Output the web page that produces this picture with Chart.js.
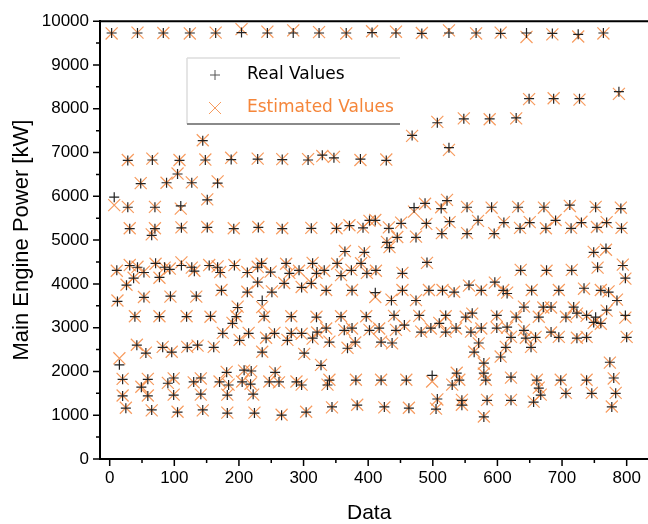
<!DOCTYPE html>
<html>
<head>
<meta charset="utf-8">
<script src="https://cdn.jsdelivr.net/npm/chart.js@4.4.1/dist/chart.umd.min.js"></script>
<style>
html, body { margin: 0; padding: 0; background: #fff; }
</style>
</head>
<body>
<canvas id="powerChart" width="648" height="524"></canvas>
<script>
// data index of every sample (one line per band of the plot)
const dataIndex = [
    3,43,83,124,164,204,244,284,324,366,406,443,483,525,567,605,645,685,725,764,
    28,66,108,148,188,229,267,307,329,347,388,428,
    105,48,88,127,167,144,151,
    468,507,525,548,588,629,649,687,727,788,
    7,28,70,110,
    471,488,513,522,553,591,632,672,712,752,791,
    31,65,70,111,151,192,230,267,312,351,371,392,402,411,432,451,474,490,514,526,553,570,595,610,635,650,675,690,714,730,754,769,792,
    364,394,429,433,445,749,768,
    11,31,43,53,71,85,93,111,127,131,154,167,171,193,213,229,235,249,273,278,293,314,320,332,352,358,374,389,398,412,453,491,636,676,715,755,794,798,
    26,37,77,173,213,229,251,270,297,312,335,375,411,436,453,474,494,515,533,556,575,596,609,615,641,653,695,734,760,772,785,
    12,53,94,134,198,236,
    39,77,119,156,196,239,281,320,358,397,440,479,520,551,561,599,629,664,671,683,706,718,723,738,752,769,798,
    175,190,201,215,236,242,255,281,297,321,335,363,375,402,417,443,456,482,497,510,520,536,559,575,599,615,621,641,644,659,683,695,723,738,749,760,800,
    42,56,82,96,120,136,161,275,301,314,327,340,368,380,420,437,564,571,579,605,613,652,
    15,
    20,59,99,141,181,208,219,247,256,262,289,297,337,340,381,420,459,499,530,537,541,579,582,621,661,664,698,706,738,746,774,777,780,783,
    49,90,130,170,184,205,218,
    20,59,99,141,182,222,
    25,65,105,144,182,224,266,304,344,383,425,463,505,507,545,545,584,621,656,667,579
];

// measured main engine power [kW]
const realPower = [
    9730,9730,9730,9730,9730,9740,9730,9730,9730,9730,9740,9730,9720,9730,9730,9720,9730,9720,9700,9730,
    6820,6830,6820,6830,6840,6850,6840,6830,6940,6880,6850,6820,
    6510,6290,6310,6310,6300,7270,5920,
    7390,7680,7110,7770,7770,7790,8230,8230,8230,8390,
    5980,5750,5750,5780,
    5740,5840,5720,5900,5750,5750,5750,5750,5800,5750,5720,
    5260,5110,5260,5280,5290,5260,5290,5260,5270,5270,5330,5280,5450,5450,5270,5380,5060,5380,5150,5420,5150,5450,5150,5400,5270,5400,5270,5450,5270,5400,5290,5400,5270,
    4740,4720,4950,4830,5060,4720,4810,
    4310,4420,4380,4260,4470,4380,4330,4420,4380,4290,4420,4380,4260,4420,4260,4380,4470,4270,4470,4240,4310,4470,4240,4310,4470,4190,4310,4470,4240,4310,4240,4490,4310,4310,4310,4380,4420,4130,
    3970,4130,4150,3850,3810,4040,3810,4010,3920,4010,3850,3850,3800,3620,3850,3620,3850,3850,3810,3970,3850,4040,3850,3780,3470,3850,3850,3900,3850,3810,3620,
    3600,3690,3720,3720,3460,3620,
    3250,3250,3250,3260,3250,3260,3250,3240,3250,3250,3280,3280,3280,3240,3330,3280,3240,3240,3470,3470,3240,3470,3330,3280,3240,3400,3280,
    2870,3100,2710,2870,2440,2760,2870,2870,2870,2900,2990,2940,2990,2940,2990,2940,3060,2900,2990,3100,2900,2990,2900,2990,2990,3010,2780,2940,2760,2780,2900,2780,2760,2780,3120,3100,2780,
    2600,2420,2550,2440,2550,2600,2550,2710,2420,2760,2140,2670,2530,2670,2670,2650,2440,2650,2190,2330,2550,2550,
    2150,
    1820,1820,1850,1850,1980,2030,2010,1760,1980,1760,1760,1690,1690,1800,1800,1800,1800,1910,1690,1960,1800,1960,1800,1870,1800,1620,1800,1500,1800,1500,2210,1190,1850,1500,
    1640,1730,1760,1760,1690,1760,1710,
    1440,1440,1460,1480,1460,1480,
    1160,1120,1070,1120,1050,1050,1000,1070,1190,1230,1190,1160,1140,1370,1340,1230,1340,1340,1300,1460,960
];

// model estimate of main engine power [kW]
const estimatedPower = [
    9720,9740,9730,9720,9740,9820,9760,9790,9750,9720,9770,9760,9730,9790,9720,9740,9640,9700,9650,9720,
    6830,6860,6830,6840,6880,6860,6850,6850,6920,6900,6830,6840,
    6520,6300,6310,6320,6340,7280,5930,
    7380,7700,7060,7780,7760,7780,8220,8240,8210,8340,
    5800,5760,5760,5720,
    5650,5830,5750,5920,5760,5740,5760,5740,5780,5760,5740,
    5270,5130,5270,5290,5300,5270,5300,5270,5280,5270,5340,5290,5440,5460,5290,5400,5080,5370,5160,5410,5160,5440,5160,5410,5280,5410,5270,5460,5280,5420,5300,5410,5280,
    4750,4730,4960,4840,5070,4730,4780,
    4300,4430,4390,4280,4460,4370,4350,4490,4370,4300,4430,4400,4270,4430,4270,4390,4460,4280,4460,4250,4300,4480,4250,4300,4460,4200,4320,4470,4250,4300,4250,4480,4320,4300,4320,4370,4440,4120,
    3980,4140,4140,3860,3820,4030,3830,4020,3930,4020,3860,3860,3700,3640,3860,3630,3860,3860,3820,3960,3860,4030,3860,3800,3480,3860,3860,3890,3860,3830,3640,
    3620,3700,3710,3710,3480,3470,
    3260,3260,3260,3250,3260,3250,3260,3250,3260,3260,3270,3270,3260,3250,3320,3270,3250,3250,3460,3460,3250,3460,3320,3270,3160,3390,3230,
    2880,3110,2720,2880,2450,2770,2880,2880,2860,2890,2980,2950,2980,2950,2980,2950,3040,2910,2980,3110,2910,2980,2910,2980,3000,3000,2790,2950,2770,2790,2890,2790,2770,2790,3110,3090,2790,
    2610,2430,2560,2450,2560,2590,2560,2720,2400,2750,2150,2680,2540,2660,2680,2640,2450,2640,2180,2340,2560,2560,
    2300,
    1830,1830,1840,1840,1990,2020,2000,1770,1990,1750,1770,1700,1700,1810,1810,1810,1810,1770,1700,1970,1810,1950,1810,1860,1810,1630,1810,1510,1810,1510,2200,1200,1840,1510,
    1650,1740,1750,1770,1700,1770,1720,
    1450,1450,1470,1470,1470,1470,
    1170,1110,1080,1110,1060,1060,1010,1080,1180,1240,1180,1170,1150,1360,1350,1240,1350,1350,1310,1470,970
];

// axis ticks
const xTicks = [0, 100, 200, 300, 400, 500, 600, 700, 800];
const xMinorTicks = [50, 150, 250, 350, 450, 550, 650, 750];
const yTicks = [0, 1000, 2000, 3000, 4000, 5000, 6000, 7000, 8000, 9000, 10000];
const yMinorTicks = [500, 1500, 2500, 3500, 4500, 5500, 6500, 7500, 8500, 9500];

const seriesNames = ['Real Values', 'Estimated Values'];
const realColor = '#222222';
const estColor = 'rgba(246,138,66,0.85)';

const realPoints = dataIndex.map((x, i) => ({ x: x, y: realPower[i] }));
const estPoints = dataIndex.map((x, i) => ({ x: x, y: estimatedPower[i] }));

// outward tick marks (long majors, short minors) + frame lines running to the right edge
const tickMarks = {
    id: 'tickMarks',
    afterDraw(chart) {
        const { ctx, chartArea: area, scales: { x, y } } = chart;
        ctx.save();
        ctx.strokeStyle = '#000';
        ctx.lineWidth = 1.5;
        ctx.beginPath();
        xTicks.forEach(v => { const p = x.getPixelForValue(v); ctx.moveTo(p, area.bottom); ctx.lineTo(p, area.bottom + 7); });
        xMinorTicks.forEach(v => { const p = x.getPixelForValue(v); ctx.moveTo(p, area.bottom); ctx.lineTo(p, area.bottom + 4); });
        yTicks.forEach(v => { const p = y.getPixelForValue(v); ctx.moveTo(area.left, p); ctx.lineTo(area.left - 7, p); });
        yMinorTicks.forEach(v => { const p = y.getPixelForValue(v); ctx.moveTo(area.left, p); ctx.lineTo(area.left - 4, p); });
        ctx.stroke();
        ctx.lineWidth = 2;
        ctx.beginPath();
        ctx.moveTo(area.left, area.top);
        ctx.lineTo(chart.width, area.top);
        ctx.moveTo(area.right - 1, area.bottom);
        ctx.lineTo(chart.width, area.bottom);
        ctx.stroke();
        ctx.restore();
    }
};

// legend box inside the plot
const legendBox = {
    id: 'legendBox',
    afterDraw(chart) {
        const ctx = chart.ctx;
        ctx.save();
        ctx.fillStyle = '#fff';
        ctx.fillRect(187, 58, 213, 66);
        ctx.lineWidth = 1.5;
        ctx.strokeStyle = '#dddddd';
        ctx.beginPath();
        ctx.moveTo(187, 58); ctx.lineTo(400, 58);
        ctx.moveTo(187, 58); ctx.lineTo(187, 124);
        ctx.stroke();
        ctx.strokeStyle = '#8a8a8a';
        ctx.lineWidth = 2;
        ctx.beginPath();
        ctx.moveTo(187, 124); ctx.lineTo(400, 124);
        ctx.stroke();

        // plus marker
        ctx.strokeStyle = '#555';
        ctx.lineWidth = 1;
        ctx.beginPath();
        ctx.moveTo(210, 75); ctx.lineTo(220, 75);
        ctx.moveTo(215, 70); ctx.lineTo(215, 80);
        ctx.stroke();
        // x marker
        ctx.strokeStyle = estColor;
        ctx.beginPath();
        ctx.moveTo(209, 102); ctx.lineTo(221, 114);
        ctx.moveTo(221, 102); ctx.lineTo(209, 114);
        ctx.stroke();

        ctx.font = '17px "DejaVu Sans"';
        ctx.textBaseline = 'middle';
        ctx.fillStyle = '#000';
        ctx.fillText(seriesNames[0], 247, 75);
        ctx.fillStyle = '#f5863a';
        ctx.fillText(seriesNames[1], 247, 108);
        ctx.restore();
    }
};

new Chart(document.getElementById('powerChart'), {
    type: 'scatter',
    data: {
        datasets: [{
            label: seriesNames[0],
            data: realPoints,
            pointStyle: 'cross',
            radius: 5,
            borderWidth: 1.2,
            borderColor: realColor,
            backgroundColor: realColor
        }, {
            label: seriesNames[1],
            data: estPoints,
            pointStyle: 'crossRot',
            radius: 8.5,
            borderWidth: 1.2,
            borderColor: estColor,
            backgroundColor: estColor
        }]
    },
    options: {
        responsive: false,
        animation: false,
        devicePixelRatio: 1,
        layout: { padding: { top: 20, right: 0, left: 0, bottom: 0 } },
        plugins: {
            legend: { display: false },
            tooltip: { enabled: false }
        },
        scales: {
            x: {
                type: 'linear',
                min: -15,
                max: 818,
                afterBuildTicks: (scale) => { scale.ticks = xTicks.map(v => ({ value: v })); },
                afterFit: (scale) => {
                    scale.height = 65;
                    scale.paddingLeft = 0;
                    scale.paddingRight = 0;
                },
                grid: { display: false, drawTicks: false },
                border: { display: true, color: '#000', width: 2 },
                ticks: {
                    color: '#000',
                    padding: 9,
                    maxRotation: 0,
                    callback: (v) => String(v),
                    font: { family: '"Liberation Sans", Arial, sans-serif', size: 17 }
                },
                title: {
                    display: true,
                    text: 'Data',
                    color: '#000',
                    padding: { top: 0, bottom: 0 },
                    font: { family: '"Liberation Sans", Arial, sans-serif', size: 21, lineHeight: 1 }
                }
            },
            y: {
                min: 0,
                max: 10000,
                afterBuildTicks: (scale) => { scale.ticks = yTicks.map(v => ({ value: v })); },
                afterFit: (scale) => { scale.width = 100; },
                grid: { display: false, drawTicks: false },
                border: { display: true, color: '#000', width: 2 },
                ticks: {
                    color: '#000',
                    padding: 11,
                    callback: (v) => String(v),
                    font: { family: '"Liberation Sans", Arial, sans-serif', size: 17 }
                },
                title: {
                    display: true,
                    text: 'Main Engine Power [kW]',
                    color: '#000',
                    padding: { top: 11, bottom: 0 },
                    font: { family: '"Liberation Sans", Arial, sans-serif', size: 22, lineHeight: 1 }
                }
            }
        }
    },
    plugins: [tickMarks, legendBox]
});
</script>
</body>
</html>
